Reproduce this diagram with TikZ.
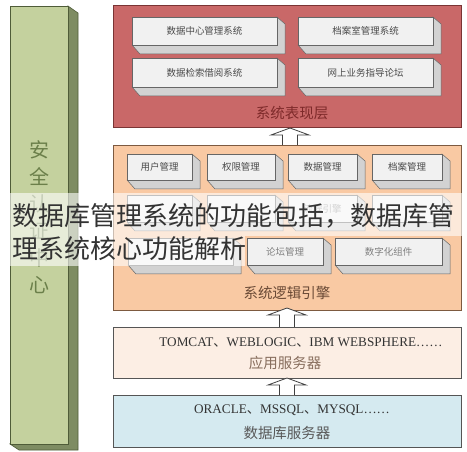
\documentclass[tikz,border=0pt]{standalone}
\usepackage{fontspec}
\setmainfont{Liberation Serif}
\newfontfamily\cjk{Noto Sans CJK SC}
\definecolor{gfront}{HTML}{C4D19E}
\definecolor{gside}{HTML}{7E8C62}
\definecolor{gline}{HTML}{4F5C38}
\definecolor{gtext}{HTML}{6B7F4A}
\definecolor{redfill}{HTML}{C96868}
\definecolor{redline}{HTML}{7A3434}
\definecolor{redtext}{HTML}{7E2A2A}
\definecolor{orfill}{HTML}{F9C9A3}
\definecolor{orline}{HTML}{7D5A40}
\definecolor{ortext}{HTML}{6A4A36}
\definecolor{appfill}{HTML}{FCEEE4}
\definecolor{dbfill}{HTML}{D5EAF0}
\definecolor{layline}{HTML}{555555}
\definecolor{bfront}{HTML}{F1F1F1}
\definecolor{bside}{HTML}{D2D2D2}
\definecolor{bline}{HTML}{666666}
\definecolor{btext}{HTML}{4A4A4A}
\tikzset{
  layerbox/.style={draw=#1, line width=0.9pt, minimum width=348pt, inner sep=0pt},
  frontbox/.style={draw=bline, fill=bfront, line width=0.5pt, inner sep=0pt,
     font=\cjk\fontsize{9.5}{11}\selectfont, text=btext},
  sidebox/.style={draw=bline, fill=bside, line width=0.5pt, line join=round},
  hollowarrow/.style={draw=black!75, fill=white, line width=0.8pt, line join=miter},
  laytitle/.style={font=\cjk\fontsize{14.5}{16}\selectfont},
}
% 3D box: x1 y1 x2 y2 name label
\newcommand\tdbox[6]{%
  \filldraw[sidebox] (#1,#4) -- ({#1+8},{#4+9}) -- ({#3+8},{#4+9}) -- ({#3+8},{#2+7}) -- (#3,#2) -- cycle;
  \node[frontbox, minimum width={(#3-#1)*1pt}, minimum height={(#4-#2)*1pt}] (#5) at ({(#1+#3)/2},{(#2+#4)/2}) {#6};
}
\newcommand\uparr[4]{% name cx tip bottom
  \filldraw[hollowarrow] ({#2-7.5},#4) -- ({#2-7.5},{#3+7}) -- ({#2-19},{#3+7}) -- (#2,#3) -- ({#2+19},{#3+7}) -- ({#2+7.5},{#3+7}) -- ({#2+7.5},#4);
  \coordinate (#1) at (#2,#3);
}
\begin{document}
\begin{tikzpicture}[x=1pt,y=-1pt]
\useasboundingbox (0,0) rectangle (467,452);
\fill[white] (0,0) rectangle (467,452);

% security bar
\filldraw[fill=gside, draw=gline, line width=0.6pt] (68,6) -- (78,13) -- (78,450) -- (19,450) -- (10,444) -- (68,444) -- cycle;
\node[draw=gline, fill=gfront, line width=0.6pt, minimum width=58pt, minimum height=438pt, inner sep=0pt] (sec) at (39,225) {};
\node[align=center, text=gtext, font=\cjk\fontsize{20}{27}\selectfont, inner sep=0pt] (sectext) at (39,217.5) {安\\全\\认\\证\\中\\心};

% presentation layer
\node[layerbox=redline, fill=redfill, minimum height=122pt] (pres) at (287,66) {};
\tdbox{132}{17}{277}{45}{p1}{数据中心管理系统}
\tdbox{298}{17}{433}{45}{p2}{档案室管理系统}
\tdbox{132}{58}{277}{87}{p3}{数据检索借阅系统}
\tdbox{298}{58}{433}{87}{p4}{网上业务指导论坛}
\node[laytitle, text=redtext] (prest) at (292,113) {系统表现层};

% logic layer
\node[layerbox=orline, fill=orfill, minimum height=165pt] (logic) at (287,227.5) {};
\tdbox{127}{154}{192}{180}{l1}{用户管理}
\tdbox{207}{154}{275}{180}{l2}{权限管理}
\tdbox{288}{154}{357}{180}{l3}{数据管理}
\tdbox{372}{154}{442}{180}{l4}{档案管理}
\tdbox{127}{195}{192}{222}{l5}{}
\tdbox{207}{195}{275}{222}{l6}{}
\tdbox{288}{195}{357}{222}{l7}{\color{btext!60}流程引擎}
\tdbox{372}{195}{442}{222}{l8}{}
\tdbox{128}{238}{233}{265}{l9}{}
\tdbox{247}{238}{323}{265}{l10}{\color{btext!70}论坛管理}
\tdbox{335}{238}{442}{265}{l11}{\color{btext!70}数字化组件}
\node[laytitle, text=ortext] (logict) at (287,293) {系统逻辑引擎};

% app server
\node[layerbox=layline, fill=appfill, minimum height=51pt] (app) at (287,352.5) {};
\node[font=\fontsize{13.2}{15}\selectfont, text=black!80] (appl) at (301,342) {TOMCAT{\cjk 、}WEBLOGIC{\cjk 、}IBM WEBSPHERE……};
\node[laytitle, text=ortext!80] (appt) at (285,363) {应用服务器};

% db server
\node[layerbox=layline, fill=dbfill, minimum height=52pt] (db) at (287,421) {};
\node[font=\fontsize{13.2}{15}\selectfont, text=black!80] (dbl) at (292,410) {ORACLE{\cjk 、}MSSQL{\cjk 、}MYSQL……};
\node[laytitle, text=black!65] (dbt) at (287,433) {数据库服务器};

% arrows
\uparr{a1}{290}{128}{145}
\uparr{a2}{287}{308}{327}
\uparr{a3}{287}{378}{395}

% overlay caption
\fill[white, opacity=0.6] (10,193) rectangle (462,236);
\fill[white, opacity=0.6] (10,236) rectangle (245,266);
\node[anchor=west, inner sep=0pt, text=black!80, font=\cjk\fontsize{26}{28}\selectfont] (cap1) at (12,216) {数据库管理系统的功能包括，数据库管};
\node[anchor=west, inner sep=0pt, text=black!80, font=\cjk\fontsize{26}{28}\selectfont] (cap2) at (12,249) {理系统核心功能解析};
\end{tikzpicture}
\end{document}
